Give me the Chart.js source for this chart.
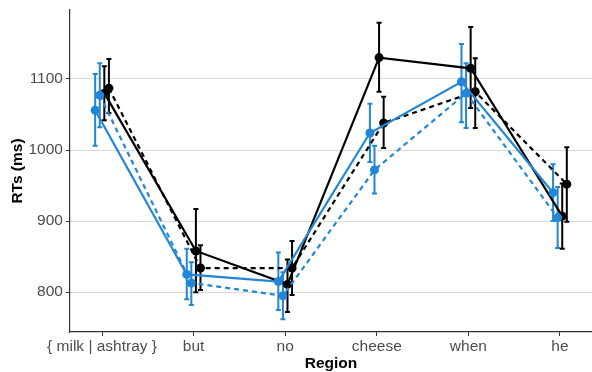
<!DOCTYPE html>
<html>
<head>
<meta charset="utf-8">
<script src="https://cdn.jsdelivr.net/npm/chart.js@4"></script>
<style>
html,body{margin:0;padding:0;background:#fff;}
#wrap{width:592px;height:372px;}
</style>
</head>
<body>
<div id="wrap"><canvas id="rtChart"></canvas></div>
<script>
// ================= DATA =================
const regions = ["{ milk | ashtray }", "but", "no", "cheese", "when", "he"];
const yTicks = [800, 900, 1000, 1100];

const blueSolid   = [1056, 825, 815, 1024, 1096, 940];
const blueSolidLo = [1006, 790, 775,  983, 1039, 900];
const blueSolidHi = [1107, 861, 856, 1065, 1149, 980];

const blueDash    = [1077, 813, 795,  972, 1080, 905];
const blueDashLo  = [1032, 782, 762,  939, 1031, 862];
const blueDashHi  = [1122, 842, 828, 1006, 1122, 948];

const blackSolid   = [1080, 858, 811, 1130, 1115, 907];
const blackSolidLo = [1042, 800, 772, 1082, 1059, 861];
const blackSolidHi = [1118, 917, 846, 1179, 1173, 953];

const blackDash    = [1087, 834, 834, 1038, 1082, 952];
const blackDashLo  = [1052, 803, 796, 1003, 1031, 899];
const blackDashHi  = [1128, 866, 872, 1075, 1129, 1004];

const dodge = [-0.075, -0.025, 0.025, 0.075];

const BLUE = '#2186D6';
const BLACK = '#000000';

function pts(vals, lo, hi, k){
  return vals.map((v,i)=>({x:i+1+dodge[k], y:v, lo:lo[i], hi:hi[i]}));
}

function makeSet(label, vals, lo, hi, k, color, dashed){
  return {
    label:label,
    data:pts(vals, lo, hi, k),
    borderColor:color,
    backgroundColor:color,
    borderWidth:2.2,
    borderDash: dashed ? [5,4] : [],
    pointRadius:4.5,
    pointHoverRadius:4.5,
    pointBorderWidth:0,
    showLine:true,
    tension:0
  };
}

// ================= ERROR BARS =================
const errorBars = {
  id:'errorBars',
  beforeDatasetsDraw(chart){
    const ctx = chart.ctx;
    const xs = chart.scales.x, ys = chart.scales.y;
    chart.data.datasets.forEach(ds=>{
      ctx.save();
      ctx.strokeStyle = ds.borderColor;
      ctx.lineWidth = 2;
      ctx.setLineDash([]);
      ds.data.forEach(p=>{
        const x = xs.getPixelForValue(p.x);
        const y1 = ys.getPixelForValue(p.lo);
        const y2 = ys.getPixelForValue(p.hi);
        ctx.beginPath();
        ctx.moveTo(x,y1); ctx.lineTo(x,y2);
        ctx.moveTo(x-2.5,y1); ctx.lineTo(x+2.5,y1);
        ctx.moveTo(x-2.5,y2); ctx.lineTo(x+2.5,y2);
        ctx.stroke();
      });
      ctx.restore();
    });
  }
};

// ================= CHART =================
const rtChart = new Chart(document.getElementById('rtChart'),{
  type:'line',
  data:{
    datasets:[
      makeSet('blue solid', blueSolid, blueSolidLo, blueSolidHi, 0, BLUE, false),
      makeSet('blue dashed', blueDash, blueDashLo, blueDashHi, 1, BLUE, true),
      makeSet('black solid', blackSolid, blackSolidLo, blackSolidHi, 2, BLACK, false),
      makeSet('black dashed', blackDash, blackDashLo, blackDashHi, 3, BLACK, true)
    ]
  },
  options:{
    responsive:true,
    maintainAspectRatio:false,
    animation:false,
    layout:{autoPadding:false, padding:{top:10,right:0,left:10,bottom:0}},
    plugins:{legend:{display:false},tooltip:{enabled:false}},
    scales:{
      x:{
        type:'linear',
        min:0.65, max:6.35,
        afterBuildTicks(axis){ axis.ticks = regions.map((r,i)=>({value:i+1})); },
        afterFit(axis){ axis.paddingRight = 0; axis.height = 40; },
        ticks:{
          color:'#4D4D4D',
          font:{family:'Liberation Sans, Arial',size:15.5,lineHeight:1},
          padding:3,
          autoSkip:false,
          maxRotation:0,
          callback:(v)=>regions[Math.round(v)-1]
        },
        grid:{display:true, drawOnChartArea:false, drawTicks:true, tickLength:4, tickColor:'#333'},
        border:{display:true,color:'#333',width:1.2},
        title:{display:true,text:'Region',color:'#000',
          font:{family:'Liberation Sans, Arial',size:15.5,weight:'bold',lineHeight:1},padding:{top:1,bottom:1}}
      },
      y:{
        min:744, max:1197,
        afterBuildTicks(axis){ axis.ticks = yTicks.map(v=>({value:v})); },
        afterFit(axis){ axis.paddingTop = 0; axis.paddingBottom = 0; },
        ticks:{
          color:'#4D4D4D',
          font:{family:'Liberation Sans, Arial',size:15.5},
          padding:3,
          callback:(v)=>String(v)
        },
        grid:{color:'#D9D9D9',lineWidth:1,tickLength:4,tickColor:'#333'},
        border:{display:true,color:'#333',width:1.2},
        title:{display:true,text:'RTs (ms)',color:'#000',
          font:{family:'Liberation Sans, Arial',size:15.5,weight:'bold',lineHeight:1},padding:{top:0,bottom:0}}
      }
    }
  },
  plugins:[errorBars]
});
</script>
</body>
</html>
